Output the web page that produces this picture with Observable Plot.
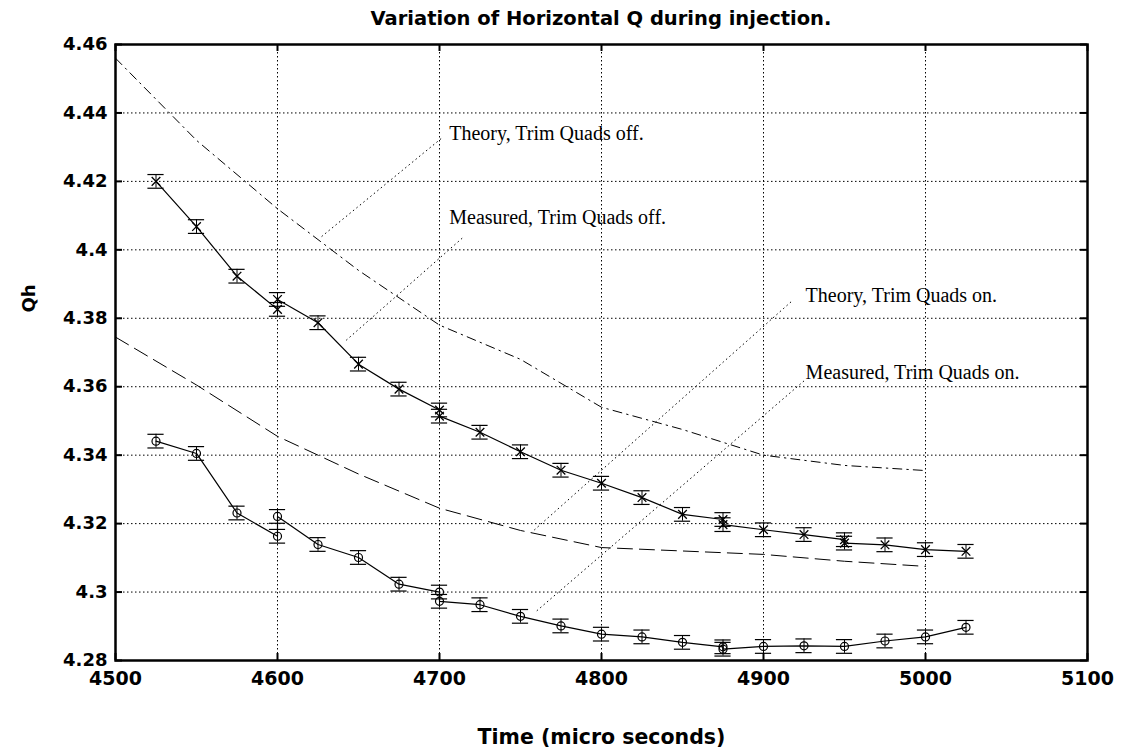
<!DOCTYPE html>
<html>
<head>
<meta charset="utf-8">
<script src="https://cdn.jsdelivr.net/npm/d3@7"></script>
<script src="https://cdn.jsdelivr.net/npm/@observablehq/plot@0.6"></script>
<style>
  body { margin: 0; background: #fff; }
  #title {
    font-family: "DejaVu Sans", sans-serif;
    font-weight: bold;
    font-size: 19.5px;
    height: 30px;
    line-height: 38px;
    margin-left: 115px;
    width: 972px;
    text-align: center;
    color: #000;
  }
</style>
</head>
<body>
<div id="title">Variation of Horizontal Q during injection.</div>
<div id="chart"></div>
<script>
// ---- Axis ticks ----
const xTicks = [4500, 4600, 4700, 4800, 4900, 5000, 5100];
const xTickLabels = ["4500", "4600", "4700", "4800", "4900", "5000", "5100"];
const yTicks = [4.28, 4.30, 4.32, 4.34, 4.36, 4.38, 4.40, 4.42, 4.44, 4.46];
const yTickLabels = ["4.28", "4.3", "4.32", "4.34", "4.36", "4.38", "4.4", "4.42", "4.44", "4.46"];
const xLabel = "Time (micro seconds)";
const yLabel = "Qh";

// ---- Measured, Trim Quads off (x markers) ----
const measOffTime = [4525, 4550, 4575, 4600, 4600, 4625, 4650, 4675, 4700, 4700, 4725, 4750, 4775,
                     4800, 4825, 4850, 4875, 4875, 4900, 4925, 4950, 4950, 4975, 5000, 5025];
const measOffQ = [4.4200, 4.4068, 4.3923, 4.3826, 4.3855, 4.3787, 4.3666, 4.3593, 4.3532, 4.3514, 4.3467, 4.3410, 4.3356,
                  4.3318, 4.3276, 4.3227, 4.3212, 4.3197, 4.3182, 4.3168, 4.3153, 4.3143, 4.3138, 4.3124, 4.3119];

// ---- Measured, Trim Quads on (o markers) ----
const measOnTime = [4525, 4550, 4575, 4600, 4600, 4625, 4650, 4675, 4700, 4700, 4725, 4750, 4775,
                    4800, 4825, 4850, 4875, 4875, 4900, 4925, 4950, 4975, 5000, 5025];
const measOnQ = [4.3441, 4.3405, 4.3231, 4.3163, 4.3221, 4.3139, 4.3101, 4.3023, 4.3000, 4.2973, 4.2963, 4.2929, 4.2901,
                 4.2877, 4.2869, 4.2853, 4.2840, 4.2833, 4.2841, 4.2843, 4.2841, 4.2857, 4.2869, 4.2897];

// error-bar half length (Qh units)
const errHalf = 0.002;

// ---- Theory curves ----
const theoryTime = [4500, 4550, 4600, 4650, 4700, 4750, 4800, 4850, 4900, 4950, 5000];
const theoryOffQ = [4.456, 4.432, 4.412, 4.394, 4.378, 4.368, 4.354, 4.3475, 4.340, 4.337, 4.3355];
const theoryOnQ  = [4.3745, 4.3605, 4.3455, 4.3345, 4.3245, 4.318, 4.313, 4.312, 4.311, 4.309, 4.3075];

// ---- Annotations ----
const noteText = ["Theory, Trim Quads off.", "Measured, Trim Quads off.", "Theory, Trim Quads on.", "Measured, Trim Quads on."];
const noteTime = [4706, 4706, 4926, 4926];
const noteQ    = [4.4340, 4.4095, 4.3867, 4.3641];
const leaderFromTime = [4701, 4714, 4917, 4925];
const leaderFromQ    = [4.4325, 4.4034, 4.3848, 4.3617];
const leaderToTime   = [4626, 4642, 4757, 4760];
const leaderToQ      = [4.4034, 4.3734, 4.3175, 4.2945];

// ---- build tables ----
const measOff = measOffTime.map((t, i) => ({t, q: measOffQ[i]}));
const measOn = measOnTime.map((t, i) => ({t, q: measOnQ[i]}));
const theoryOff = theoryTime.map((t, i) => ({t, q: theoryOffQ[i]}));
const theoryOn = theoryTime.map((t, i) => ({t, q: theoryOnQ[i]}));
const notes = noteText.map((text, i) => ({text, t: noteTime[i], q: noteQ[i],
  t1: leaderFromTime[i], q1: leaderFromQ[i], t2: leaderToTime[i], q2: leaderToQ[i]}));

const W = 1122, H = 720;
const mT = 14, mR = 35, mB = 90, mL = 115;
const innerW = W - mL - mR, innerH = H - mT - mB;
const tickLen = 7;
const capHalf = 5; // time units
const grid = {stroke: "#000", strokeOpacity: 1, strokeWidth: 1, strokeDasharray: "1.5,2.5"};
const tickFont = {fontFamily: "DejaVu Sans", fontWeight: "bold", fill: "#000"};

function errorMarks(data) {
  return [
    Plot.ruleX(data, {x: "t", y1: d => d.q - errHalf, y2: d => d.q + errHalf, stroke: "#000", strokeWidth: 1}),
    Plot.ruleY(data, {y: d => d.q + errHalf, x1: d => d.t - capHalf, x2: d => d.t + capHalf, stroke: "#000", strokeWidth: 1.2}),
    Plot.ruleY(data, {y: d => d.q - errHalf, x1: d => d.t - capHalf, x2: d => d.t + capHalf, stroke: "#000", strokeWidth: 1.2})
  ];
}

const chart = Plot.plot({
  width: W, height: H,
  marginTop: mT, marginRight: mR, marginBottom: mB, marginLeft: mL,
  style: {background: "#fff", color: "#000"},
  x: {domain: [4500, 5100], label: null},
  y: {domain: [4.28, 4.46], label: null},
  marks: [
    Plot.gridX(xTicks, grid),
    Plot.gridY(yTicks, grid),
    // theory curves
    Plot.line(theoryOff, {x: "t", y: "q", stroke: "#000", strokeWidth: 1, strokeDasharray: "9,5,1.5,5"}),
    Plot.line(theoryOn, {x: "t", y: "q", stroke: "#000", strokeWidth: 1, strokeDasharray: "15,7"}),
    // measured
    Plot.line(measOff, {x: "t", y: "q", stroke: "#000", strokeWidth: 1.2}),
    Plot.line(measOn, {x: "t", y: "q", stroke: "#000", strokeWidth: 1.2}),
    ...errorMarks(measOff),
    ...errorMarks(measOn),
    Plot.dot(measOff, {x: "t", y: "q", symbol: "times", r: 4, stroke: "#000", strokeWidth: 1.3}),
    Plot.dot(measOn, {x: "t", y: "q", symbol: "circle", r: 4, fill: "none", stroke: "#000", strokeWidth: 1.2}),
    // annotation leaders + text
    Plot.link(notes, {x1: "t1", y1: "q1", x2: "t2", y2: "q2", stroke: "#000", strokeWidth: 1, strokeDasharray: "1.5,3"}),
    Plot.text(notes, {x: "t", y: "q", text: "text", textAnchor: "start", fontFamily: "Liberation Serif", fontSize: 20, fill: "#000"}),
    // inward ticks on all four sides
    Plot.tickY(yTicks, {y: d => d, insetRight: innerW - tickLen, stroke: "#000", strokeWidth: 2}),
    Plot.tickY(yTicks, {y: d => d, insetLeft: innerW - tickLen, stroke: "#000", strokeWidth: 2}),
    Plot.tickX(xTicks, {x: d => d, insetTop: innerH - tickLen, stroke: "#000", strokeWidth: 2}),
    Plot.tickX(xTicks, {x: d => d, insetBottom: innerH - tickLen, stroke: "#000", strokeWidth: 2}),
    // tick labels
    Plot.axisY(yTicks, {tickSize: 0, tickPadding: 8, tickFormat: (d, i) => yTickLabels[i], label: null, fontSize: 18, ...tickFont}),
    Plot.axisX(xTicks, {tickSize: 0, tickPadding: 11, tickFormat: (d, i) => xTickLabels[i], label: null, fontSize: 19, ...tickFont}),
    // axis titles
    Plot.text([xLabel], {frameAnchor: "bottom", dy: 83, text: d => d, fontFamily: "DejaVu Sans", fontSize: 20.5, fontWeight: "bold", fill: "#000"}),
    Plot.text([yLabel], {frameAnchor: "left", dx: -86, dy: -40, rotate: -90, text: d => d, fontFamily: "DejaVu Sans", fontSize: 18, fontWeight: "bold", fill: "#000"}),
    Plot.frame({stroke: "#000", strokeWidth: 2.5})
  ]
});
document.getElementById("chart").appendChild(chart);
</script>
</body>
</html>
